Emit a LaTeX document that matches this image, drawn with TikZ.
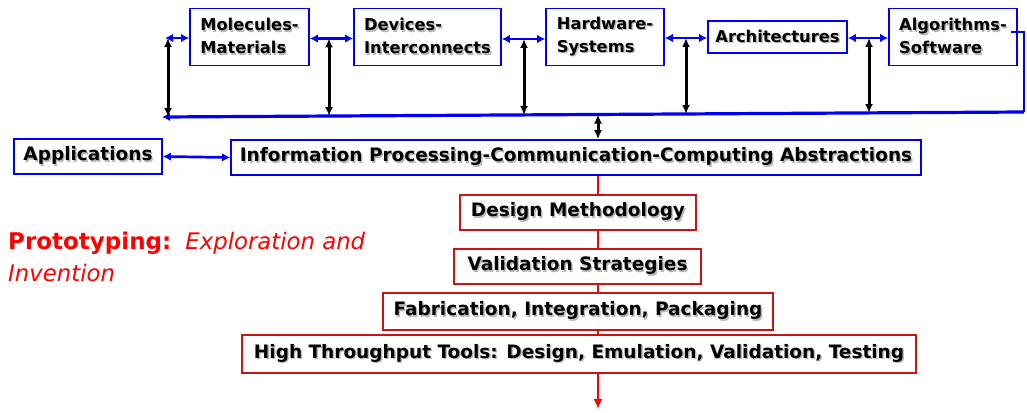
\documentclass[tikz,border=0pt]{standalone}
\usepackage{fontspec}
\setmainfont{DejaVu Sans}
\usetikzlibrary{arrows.meta,calc}
\definecolor{bblue}{RGB}{0,0,245}
\definecolor{bred}{RGB}{200,20,20}
\definecolor{lred}{RGB}{255,0,0}
% text with a soft grey drop shadow
\newcommand\shd[1]{\leavevmode\rlap{\kern1.4pt\raisebox{-1.4pt}{\textcolor{black!28}{#1}}}#1}
\begin{document}
\begin{tikzpicture}[x=1pt,y=-1pt,
  lbl/.style={font=\fontsize{16.3}{23}\selectfont\bfseries, text=black, inner sep=0pt, align=left},
  biglbl/.style={font=\fontsize{18.5}{23}\selectfont\bfseries, text=black, inner sep=0pt, align=left},
  bluebox/.style={lbl, draw=bblue, line width=1.6pt, fill=white},
  widebox/.style={biglbl, draw=bblue, line width=1.6pt, fill=white},
  redbox/.style={biglbl, draw=bred, line width=1.6pt, fill=white},
  link/.style={draw=bblue, line width=2.7pt, {Latex[length=8pt,width=8.5pt]}-{Latex[length=8pt,width=8.5pt]}},
  tie/.style={draw=black, line width=3pt, {Latex[length=9pt,width=8pt]}-{Latex[length=9pt,width=8pt]}},
  bus/.style={draw=bblue, line width=3.2pt},
  feed/.style={draw=bblue, line width=2.4pt, line join=miter},
  flow/.style={draw=lred, line width=2.8pt, -{Latex[length=10pt,width=9pt]}},
]
\useasboundingbox (0,0) rectangle (1027,412);

% red design flow, drawn first so the boxes sit on top of it
\coordinate (fstart) at (598,175);
\coordinate (fend) at (598,409);
\draw[flow] (fstart) -- (fend);

% abstraction levels along the top
\node[bluebox, minimum width=119pt, minimum height=57pt] (mol) at (249.5,37) {\shd{Molecules-}\\\shd{Materials}};
\node[bluebox, minimum width=147pt, minimum height=57pt] (dev) at (427.5,37) {\shd{Devices-}\\\shd{Interconnects}};
\node[bluebox, minimum width=118pt, minimum height=57pt] (hw) at (605,37) {\shd{Hardware-}\\\shd{Systems}};
\node[bluebox, minimum width=139pt, minimum height=32pt] (arch) at (777.5,37) {\shd{Architectures}};
\node[bluebox, minimum width=128pt, minimum height=57pt] (alg) at (953,37) {\shd{Algorithms-}\\\shd{Software}};

% applications and the abstraction layer
\node[widebox, minimum width=148pt, minimum height=35pt] (app) at (88,156.5) {\shd{Applications}};
\node[widebox, minimum width=690pt, minimum height=35pt] (info) at (576,157.5) {\shd{Information Processing-Communication-Computing Abstractions}};

% design flow stages
\node[redbox, minimum width=236pt, minimum height=35pt] (dm) at (578,212.5) {\shd{Design Methodology}};
\node[redbox, minimum width=247pt, minimum height=35pt] (vs) at (577.5,266.5) {\shd{Validation Strategies}};
\node[redbox, minimum width=390pt, minimum height=37pt] (fab) at (578,311.5) {\shd{Fabrication, Integration, Packaging}};
\node[redbox, minimum width=674pt, minimum height=38pt] (htt) at (579,354) {\shd{High Throughput Tools: Design, Emulation, Validation, Testing}};

% side caption
\node[text=lred, align=left, anchor=north west, inner sep=0pt, font=\fontsize{22.8}{32}\selectfont] (proto) at (8,232)
  {{\fontsize{23}{32}\selectfont\bfseries Prototyping:}\hspace{14pt}{\itshape Exploration and}\\
   {\itshape Invention}};

% bus joining the levels
\coordinate (busL) at (162,117);
\coordinate (busR) at (1024,112);
\coordinate (corner) at (1024,32);
\coordinate (algout) at (1011,32);
\draw[feed] (algout) -- (corner) -- (busR);
\draw[bus, -{Latex[length=8pt,width=8.5pt]}] (busR) -- (busL);

% horizontal links between neighbouring levels
\coordinate (h0) at (165,38);
\draw[link] (h0) -- (h0 -| mol.west);
\draw[link] (mol.east |- 0,38.5) -- (dev.west |- 0,38.5);
\draw[link] (dev.east |- 0,39) -- (hw.west |- 0,39);
\draw[link] (hw.east |- 0,38) -- (arch.west |- 0,38);
\draw[link] (arch.east |- 0,38) -- (alg.west |- 0,38);

% vertical ties down to the bus
\coordinate (t0) at (168,38);   \coordinate (u0) at (168,117);
\coordinate (t1) at (329,38.5); \coordinate (u1) at (329,116);
\coordinate (t2) at (524,39);   \coordinate (u2) at (524,115);
\coordinate (t3) at (686,38);   \coordinate (u3) at (686,114);
\coordinate (t4) at (869,38);   \coordinate (u4) at (869,113);
\draw[tie] (t0) -- (u0);
\draw[tie] (t1) -- (u1);
\draw[tie] (t2) -- (u2);
\draw[tie] (t3) -- (u3);
\draw[tie] (t4) -- (u4);

% bus to abstraction layer
\coordinate (ub) at (598,114.5);
\draw[tie] (ub) -- (ub |- info.north);

% applications to abstraction layer
\draw[link] (app.east) -- (info.west);
\end{tikzpicture}
\end{document}
